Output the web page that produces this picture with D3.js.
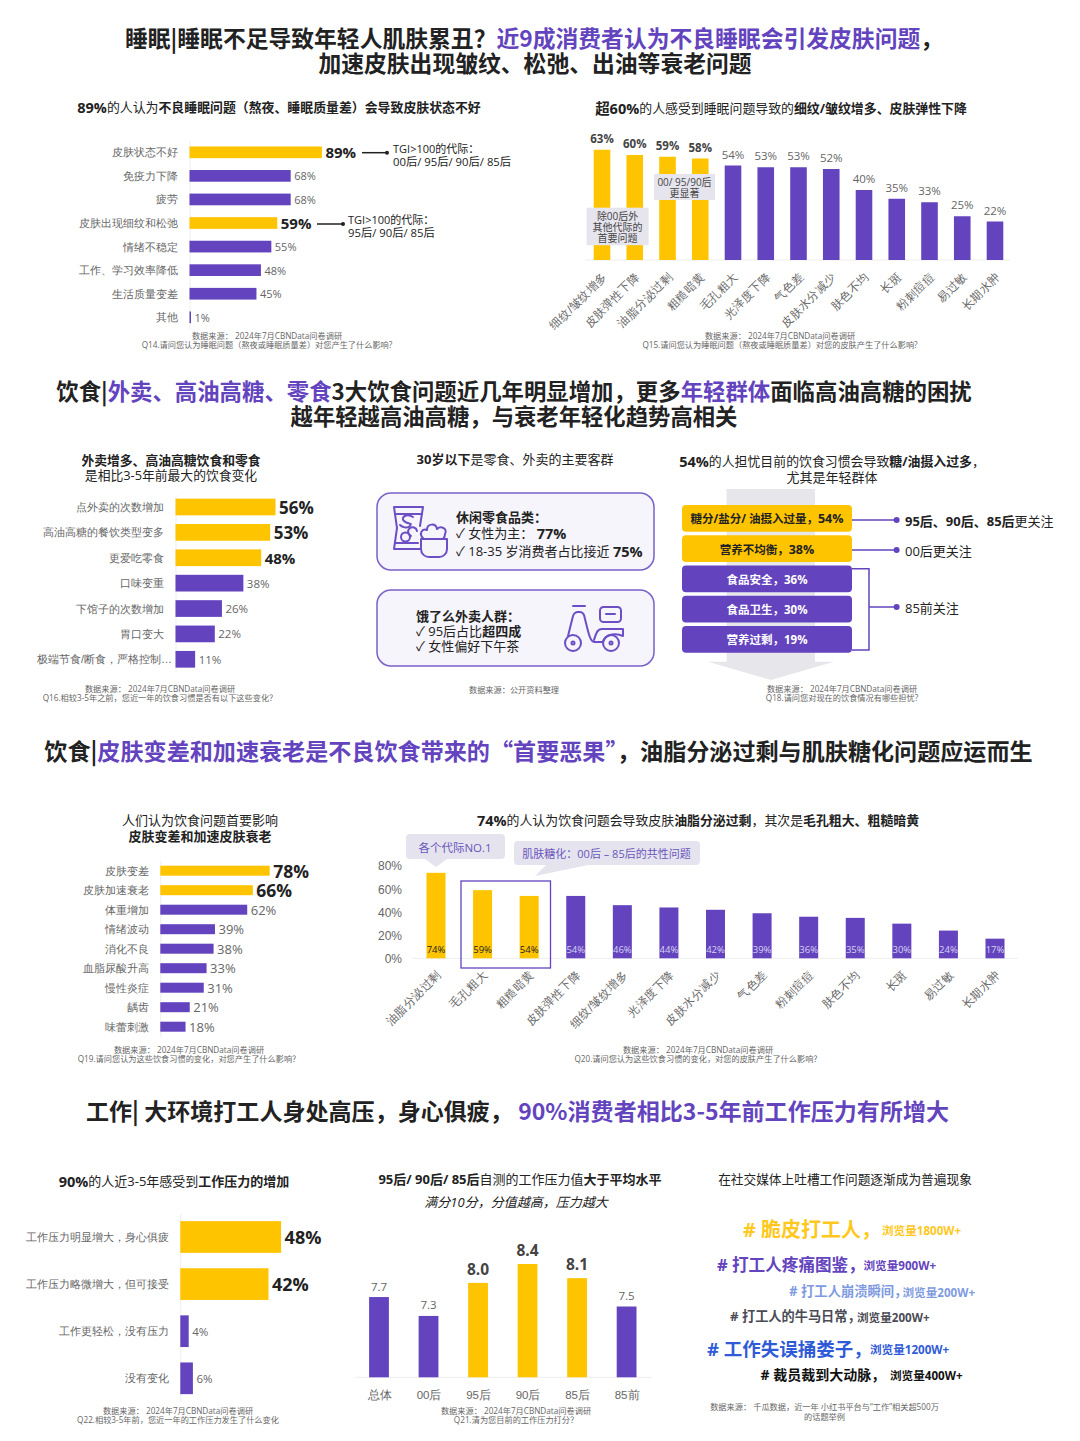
<!DOCTYPE html>
<html>
<head>
<meta charset="utf-8">
<script src="https://cdn.jsdelivr.net/npm/d3@7"></script>
<style>
  html, body { margin: 0; background: #fff; }
  svg { display: block; font-family: "Open Sans", "Noto Sans CJK SC", sans-serif; }
  text { dominant-baseline: central; }
</style>
</head>
<body>
<svg id="chart" width="1080" height="1441"></svg>
<script>
// sleep: skin state
const sleepCats = ['皮肤状态不好', '免疫力下降', '疲劳', '皮肤出现细纹和松弛', '情绪不稳定', '工作、学习效率降低', '生活质量变差', '其他'];
const sleepVals = [89, 68, 68, 59, 55, 48, 45, 1];
// sleep: skin problems
const wrinkleCats = ['细纹/皱纹增多', '皮肤弹性下降', '油脂分泌过剩', '粗糙暗黄', '毛孔粗大', '光泽度下降', '气色差', '皮肤水分减少', '肤色不均', '长斑', '粉刺痘痘', '易过敏', '长期水肿'];
const wrinkleVals = [63, 60, 59, 58, 54, 53, 53, 52, 40, 35, 33, 25, 22];
// diet changes
const dietCats = ['点外卖的次数增加', '高油高糖的餐饮类型变多', '更爱吃零食', '口味变重', '下馆子的次数增加', '胃口变大', '极端节食/断食，严格控制…'];
const dietVals = [56, 53, 48, 38, 26, 22, 11];
// diet worries
const worryCats = ['糖分/盐分/ 油摄入过量', '营养不均衡', '食品安全', '食品卫生', '营养过剩'];
const worryVals = [54, 38, 36, 30, 19];
// diet impact
const impactCats = ['皮肤变差', '皮肤加速衰老', '体重增加', '情绪波动', '消化不良', '血脂尿酸升高', '慢性炎症', '龋齿', '味蕾刺激'];
const impactVals = [78, 66, 62, 39, 38, 33, 31, 21, 18];
// diet skin problems
const oilCats = ['油脂分泌过剩', '毛孔粗大', '粗糙暗黄', '皮肤弹性下降', '细纹/皱纹增多', '光泽度下降', '皮肤水分减少', '气色差', '粉刺痘痘', '肤色不均', '长斑', '易过敏', '长期水肿'];
const oilVals = [74, 59, 54, 54, 46, 44, 42, 39, 36, 35, 30, 24, 17];
const oilTicks = [0, 20, 40, 60, 80];
// work pressure
const workCats = ['工作压力明显增大，身心俱疲', '工作压力略微增大，但可接受', '工作更轻松，没有压力', '没有变化'];
const workVals = [48, 42, 4, 6];
// pressure score
const scoreCats = ['总体', '00后', '95后', '90后', '85后', '85前'];
const scoreVals = [7.7, 7.3, 8.0, 8.4, 8.1, 7.5];
// social topics
const topics = ['# 脆皮打工人，', '# 打工人疼痛图鉴，', '# 打工人崩溃瞬间，', '# 打工人的牛马日常，', '# 工作失误捅娄子，', '# 裁员裁到大动脉，'];
const topicViews = ['1800W+', '900W+', '200W+', '200W+', '1200W+', '400W+'];

const YELLOW = '#FFC400', PURPLE = '#6344BE', DARK = '#222', GRAY = '#666', LIGHT = '#E5E4EE';
const svg = d3.select('#chart');

// segs: [text, bold, color, size]
function rich(x, y, segs, size, anchor) {
  const t = svg.append('text').attr('x', x).attr('y', y)
    .attr('text-anchor', anchor || 'middle').attr('font-size', size).attr('fill', DARK);
  segs.forEach(s => {
    t.append('tspan').text(s[0])
      .attr('font-weight', s[1] ? 700 : 400)
      .attr('fill', s[2] || null)
      .attr('font-size', s[3] || null);
  });
  return t;
}

// section headings are all CJK font so the | and the quotes stay tight
function heading(x, y, segs, size) {
  rich(x, y - 1, segs, size).attr('font-family', '"Noto Sans CJK SC"');
}

// several lines in one text element
function lines(x, y, list, gap, size, color) {
  const t = svg.append('text').attr('text-anchor', 'middle').attr('font-size', size).attr('fill', color);
  list.forEach((l, i) => {
    t.append('tspan').attr('x', x).attr('y', y + i * gap).text(l);
  });
}

function source(x, y, a, b) {
  lines(x, y, b ? [a, b] : [a], 9, 8.2, GRAY);
}

function hbar(o) {
  const step = (o.last - o.first) / (o.cats.length - 1);
  const y = d3.scaleBand().domain(o.cats).range([o.first - step / 2, o.last + step / 2]);
  const x = d3.scaleLinear().domain([0, 100]).range([o.x0, o.x0 + 100 * o.k]);
  const g = svg.append('g');

  const axis = g.append('g').attr('transform', `translate(${o.x0},0)`)
    .call(d3.axisLeft(y).tickSize(0).tickPadding(o.x0 - o.labelEnd));
  axis.select('.domain').attr('stroke', '#eee');
  axis.selectAll('text').attr('dy', 0).attr('fill', GRAY).attr('font-size', o.font)
    .attr('font-family', 'inherit')
    .attr('dx', d => d.endsWith('…') ? 8 : 0);

  g.selectAll('rect').data(o.vals).join('rect')
    .attr('x', o.x0)
    .attr('y', (d, i) => y(o.cats[i]) + y.bandwidth() / 2 - o.h / 2)
    .attr('width', d => x(d) - o.x0)
    .attr('height', o.h)
    .attr('fill', (d, i) => o.hi.includes(i) ? YELLOW : PURPLE);

  g.selectAll('.val').data(o.vals).join('text').attr('class', 'val')
    .attr('x', d => x(d) + 3.5)
    .attr('y', (d, i) => y(o.cats[i]) + y.bandwidth() / 2)
    .attr('font-size', (d, i) => o.size(i))
    .attr('font-weight', (d, i) => o.hi.includes(i) ? 700 : 400)
    .attr('fill', (d, i) => o.hi.includes(i) ? DARK : GRAY)
    .text(d => d + '%');
}

function pointer(x1, x2, y, color, r) {
  svg.append('line').attr('x1', x1).attr('x2', x2).attr('y1', y).attr('y2', y)
    .attr('stroke', color).attr('stroke-width', 1.5);
  svg.append('circle').attr('cx', x2).attr('cy', y).attr('r', r).attr('fill', color);
}

function tag(x, y, w, h, list, firstY) {
  svg.append('rect').attr('x', x).attr('y', y).attr('width', w).attr('height', h).attr('fill', '#E6E5EE');
  lines(x + w / 2, firstY, list, 11, 10, '#444');
}

// section titles
heading(534, 38, [['睡眠|睡眠不足导致年轻人肌肤累丑？', 1], ['近9成消费者认为不良睡眠会引发皮肤问题', 1, PURPLE], ['，', 1]], 22.8);
heading(535, 63, [['加速皮肤出现皱纹、松弛、出油等衰老问题', 1]], 22.8);
heading(514, 391, [['饮食|', 1], ['外卖、高油高糖、零食', 1, PURPLE], ['3大饮食问题近几年明显增加，更多', 1], ['年轻群体', 1, PURPLE], ['面临高油高糖的困扰', 1]], 22.4);
heading(514, 416, [['越年轻越高油高糖，与衰老年轻化趋势高相关', 1]], 22.35);
heading(538.5, 751, [['饮食|', 1], ['皮肤变差和加速衰老是不良饮食带来的“首要恶果”', 1, PURPLE], ['，油脂分泌过剩与肌肤糖化问题应运而生', 1]], 23.1);
heading(517.5, 1111, [['工作| 大环境打工人身处高压，身心俱疲，', 1], ['  90%消费者相比3-5年前工作压力有所增大', 1, PURPLE]], 23.05);

// --- sleep: skin state
rich(279, 107, [['89%', 1, null, 14.5], ['的人认为'], ['不良睡眠问题（熬夜、睡眠质量差）', 1], ['会导致皮肤状态不好', 1]], 12.9);
hbar({ cats: sleepCats, vals: sleepVals, hi: [0, 3], x0: 189.5, k: 1.488, first: 152.3, last: 317.3, h: 11.7, labelEnd: 178, font: 11,
  size: i => (i === 0 || i === 3) ? 15 : 11 });
pointer(362, 387, 152.7, DARK, 2);
rich(393, 148, [['TGI>100的代际：']], 11, 'start');
rich(393, 161, [['00后/ 95后/ 90后/ 85后']], 11.3, 'start');
pointer(317, 343, 224, DARK, 2);
rich(348, 219, [['TGI>100的代际：']], 11, 'start');
rich(348, 232, [['95后/ 90后/ 85后']], 11.3, 'start');
source(267, 335, '数据来源：  2024年7月CBNData问卷调研', 'Q14.请问您认为睡眠问题（熬夜或睡眠质量差）对您产生了什么影响?');

// vertical bars with rotated labels
function vbar(o) {
  const x = d3.scalePoint().domain(o.cats).range([o.first, o.last]);
  const y = d3.scaleLinear().domain(o.domain).range([o.base, o.base - (o.domain[1] - o.domain[0]) * o.k]);
  const g = svg.append('g');
  const axis = g.append('g').attr('transform', `translate(0,${o.base})`)
    .call(d3.axisBottom(x).tickSize(0));
  axis.select('.domain').attr('d', `M${o.axisFrom},0H${o.axisTo}`).attr('stroke', '#eee');
  axis.selectAll('text').attr('font-family', 'inherit').attr('fill', GRAY).attr('font-size', o.font);
  if (o.rotate) {
    axis.selectAll('text').attr('text-anchor', 'end').attr('dy', 0).attr('x', 0).attr('y', 0)
      .attr('transform', 'translate(2,14) rotate(-45)');
  } else {
    axis.selectAll('text').attr('dy', 0).attr('y', o.tickY);
  }
  g.selectAll('rect').data(o.vals).join('rect')
    .attr('x', (d, i) => x(o.cats[i]) - o.w / 2)
    .attr('y', d => y(d))
    .attr('width', o.w)
    .attr('height', d => o.base - y(d))
    .attr('fill', (d, i) => o.hi.includes(i) ? YELLOW : PURPLE);
  return { x, y, g };
}

// --- sleep: problems
rich(781, 108, [['超60%', 1, null, 14.5], ['的人感受到睡眠问题导致的'], ['细纹/皱纹增多、皮肤弹性下降', 1]], 12.9);
const wr = vbar({ cats: wrinkleCats, vals: wrinkleVals, hi: [0, 1, 2, 3], first: 602, last: 995, base: 260, k: 1.75, domain: [0, 100],
  w: 16.6, axisFrom: 585, axisTo: 1010, font: 11.6, rotate: true });
wr.g.selectAll('.val').data(wrinkleVals).join('text').attr('class', 'val')
  .attr('x', (d, i) => wr.x(wrinkleCats[i]))
  .attr('y', d => wr.y(d) - 11.5)
  .attr('text-anchor', 'middle')
  .attr('font-size', 11.5)
  .attr('font-weight', (d, i) => i < 4 ? 700 : 400)
  .attr('fill', (d, i) => i < 4 ? '#444' : GRAY)
  .text(d => d + '%');
tag(586.6, 207.7, 62, 37.5, ['除00后外', '其他代际的', '首要问题'], 216);
tag(654, 174, 61, 26, ['00/ 95/90后', '更显著'], 182);
source(780, 335, '数据来源：  2024年7月CBNData问卷调研', 'Q15.请问您认为睡眠问题（熬夜或睡眠质量差）对您的皮肤产生了什么影响?');

// --- diet changes
rich(171, 460, [['外卖增多、高油高糖饮食和零食', 1]], 12.8);
rich(171, 475, [['是相比3-5年前最大的饮食变化']], 12.8);
hbar({ cats: dietCats, vals: dietVals, hi: [0, 1, 2], x0: 175.5, k: 1.786, first: 507, last: 659.3, h: 16.7, labelEnd: 164, font: 11,
  size: i => i < 2 ? 17 : i === 2 ? 15 : 11.5 });
source(160, 688, '数据来源：  2024年7月CBNData问卷调研', 'Q16.相较3-5年之前，您近一年的饮食习惯是否有以下这些变化？');

// --- consumers boxes
rich(515, 459, [['30岁以下', 1], ['是零食、外卖的主要客群']], 13);
[[493, 77], [590, 76]].forEach(b => {
  svg.append('rect').attr('x', 377).attr('y', b[0]).attr('width', 277).attr('height', b[1]).attr('rx', 14)
    .attr('fill', '#F6F5FB').attr('stroke', '#7A60C9').attr('stroke-width', 1.5);
});
rich(456, 516.5, [['休闲零食品类：', 1]], 13, 'start');
rich(456, 533, [['✓ 女性为主： '], ['77%', 1, null, 14.5]], 13, 'start');
rich(456, 550.5, [['✓ 18-35 岁消费者占比接近 '], ['75%', 1, null, 14.5]], 13, 'start');
rich(416, 615.5, [['饿了么外卖人群：', 1]], 13, 'start');
rich(416, 630.5, [['✓ 95后占比'], ['超四成', 1]], 13, 'start');
rich(416, 646, [['✓ 女性偏好下午茶']], 13, 'start');

const icon = svg.append('g').attr('fill', 'none').attr('stroke', '#6C4FC4').attr('stroke-width', 2)
  .attr('stroke-linejoin', 'round').attr('stroke-linecap', 'round');
// snack bag and bowl
icon.append('path').attr('d', 'M420 526L423 507H394L397 528L394 549H420');
icon.append('path').attr('d', 'M395 514H422M395 543H418');
icon.append('path').attr('d', 'M413 517C407 513 400 517 404 521C408 525 413 522 410 526C407 529 402 527 400 525');
icon.append('circle').attr('cx', 405.5).attr('cy', 537).attr('r', 4.5);
icon.append('path').attr('d', 'M411 536A4.5 4.5 0 1 1 417 531');
icon.append('path').attr('d', 'M421 539H447V549C447 554 443 557 439 557H429C425 557 421 554 421 549Z');
icon.append('path').attr('d', 'M424 539C418 534 422 528 427 530C427 523 436 523 437 529C441 525 448 529 445 534C445 536 444 538 443 539');
// scooter
icon.append('circle').attr('cx', 573).attr('cy', 643).attr('r', 8);
icon.append('circle').attr('cx', 611).attr('cy', 643).attr('r', 8);
icon.append('circle').attr('cx', 573).attr('cy', 643).attr('r', 1.5);
icon.append('circle').attr('cx', 611).attr('cy', 643).attr('r', 1.5);
icon.append('path').attr('d', 'M573 606H585');
icon.append('path').attr('d', 'M568 636L573 616C574 613 576 612 578 612H580C582 612 583 613 584 615L588 631C589 635 591 642 594 642H603');
icon.append('path').attr('d', 'M594 640C596 634 597 629 602 629H623V636C617 633 606 633 603 642');
icon.append('rect').attr('x', 600).attr('y', 607).attr('width', 21).attr('height', 15).attr('rx', 3.5);
icon.append('path').attr('d', 'M606 614H615');
source(514, 689, '数据来源：公开资料整理');

// --- worries
rich(832, 461, [['54%', 1, null, 14.5], ['的人担忧目前的饮食习惯会导致'], ['糖/油摄入过多', 1], ['，']], 12.9);
rich(832, 477, [['尤其是年轻群体']], 13);
svg.append('path').attr('d', 'M726.6 489H815V661.7H834L771 680L708 661.7H726.6Z').attr('fill', '#E7E7EB');
const wy = d3.scaleBand().domain(worryCats).range([505, 652.7]).paddingInner(0.117).paddingOuter(0);
svg.append('g').selectAll('rect').data(worryVals).join('rect')
  .attr('x', 682).attr('width', 170)
  .attr('y', (d, i) => wy(worryCats[i]))
  .attr('height', wy.bandwidth()).attr('rx', 4)
  .attr('fill', (d, i) => i < 2 ? YELLOW : PURPLE);
worryVals.forEach((d, i) => {
  rich(767, wy(worryCats[i]) + wy.bandwidth() / 2, [[worryCats[i] + '，', 1, i < 2 ? DARK : '#fff'], [d + '%', 1, i < 2 ? DARK : '#fff', i < 2 ? 12.5 : null]], 11.5);
});
pointer(852, 896.6, 520, PURPLE, 3);
pointer(852, 896.6, 550, PURPLE, 3);
svg.append('path').attr('d', 'M852 568.7H869V650H852').attr('fill', 'none').attr('stroke', PURPLE).attr('stroke-width', 1.5);
pointer(869, 896.6, 607, PURPLE, 3);
rich(905, 520.5, [['95后、90后、85后', 1], ['更关注']], 13, 'start');
rich(905, 550.5, [['00后更关注']], 13, 'start');
rich(905, 607.5, [['85前关注']], 13, 'start');
source(842, 688, '数据来源：  2024年7月CBNData问卷调研', 'Q18.请问您对现在的饮食情况有哪些担忧?');

// --- diet impact
rich(200, 820, [['人们认为饮食问题首要影响']], 13);
rich(200, 836, [['皮肤变差和加速皮肤衰老', 1]], 13);
hbar({ cats: impactCats, vals: impactVals, hi: [0, 1], x0: 160.3, k: 1.402, first: 870.7, last: 1026.7, h: 10, labelEnd: 149, font: 11,
  size: i => i < 2 ? 17.5 : 13 });
source(189, 1049, '数据来源：  2024年7月CBNData问卷调研', 'Q19.请问您认为这些饮食习惯的变化，对您产生了什么影响？');

// --- diet skin problems
rich(698, 819.5, [['74%', 1, null, 14.5], ['的人认为饮食问题会导致皮肤'], ['油脂分泌过剩', 1], ['，其次是'], ['毛孔粗大、粗糙暗黄', 1]], 12.9);
const oil = vbar({ cats: oilCats, vals: oilVals, hi: [0, 1, 2], first: 436, last: 995, base: 958.3, k: 1.155, domain: [0, 100],
  w: 19, axisFrom: 412, axisTo: 1018, font: 11.6, rotate: true });
const oilAxis = d3.axisLeft(oil.y).tickValues(oilTicks).tickSize(0).tickFormat(d => d + '%');
const oilLeft = oil.g.append('g').attr('transform', 'translate(402,0)').call(oilAxis);
oilLeft.select('.domain').remove();
oilLeft.selectAll('text').attr('dy', 0).attr('x', 0).attr('font-family', 'inherit').attr('font-size', 12).attr('fill', GRAY);
oil.g.selectAll('.val').data(oilVals).join('text').attr('class', 'val')
  .attr('x', (d, i) => oil.x(oilCats[i]))
  .attr('y', 949)
  .attr('text-anchor', 'middle')
  .attr('font-size', 9.5)
  .attr('fill', (d, i) => i < 3 ? DARK : '#D9D2F2')
  .text(d => d + '%');
svg.append('rect').attr('x', 461).attr('y', 881).attr('width', 89.5).attr('height', 87)
  .attr('fill', 'none').attr('stroke', PURPLE).attr('stroke-width', 1.3);
svg.append('path').attr('d', 'M410 834H501Q505 834 505 838V855Q505 859 501 859H447L436 867L425 859H410Q406 859 406 855V838Q406 834 410 834Z').attr('fill', LIGHT);
rich(455, 846.5, [['各个代际NO.1', 0, '#6A55BD']], 11.5);
svg.append('path').attr('d', 'M518 841H696Q700 841 700 845V861Q700 865 696 865H588L535 876L546 865H518Q514 865 514 861V845Q514 841 518 841Z').attr('fill', LIGHT);
rich(606.5, 853.3, [['肌肤糖化：00后 – 85后的共性问题', 0, '#6A55BD']], 11);
source(698, 1049, '数据来源：  2024年7月CBNData问卷调研', 'Q20.请问您认为这些饮食习惯的变化，对您的皮肤产生了什么影响？');

// --- work pressure
rich(174, 1180.5, [['90%', 1, null, 14.5], ['的人近3-5年感受到'], ['工作压力的增加', 1]], 13);
hbar({ cats: workCats, vals: workVals, hi: [0, 1], x0: 180.3, k: 2.1, first: 1237, last: 1378.3, h: 31.7, labelEnd: 169, font: 11,
  size: i => i < 2 ? 18 : 11.5 });
source(178, 1410, '数据来源：  2024年7月CBNData问卷调研', 'Q22.相较3-5年前，您近一年的工作压力发生了什么变化');

// --- pressure score
rich(520, 1179, [['95后/ 90后/ 85后', 1], ['自测的工作压力值'], ['大于平均水平', 1]], 13);
rich(516, 1201.5, [['满分10分，分值越高，压力越大']], 13).attr('font-style', 'italic');
const sc = vbar({ cats: scoreCats, vals: scoreVals, hi: [2, 3, 4], first: 379, last: 626.6, base: 1377.3, k: 47.2, domain: [6, 10],
  w: 19.8, axisFrom: 355, axisTo: 652, font: 11.5, tickY: 17.5 });
sc.g.selectAll('.val').data(scoreVals).join('text').attr('class', 'val')
  .attr('x', (d, i) => sc.x(scoreCats[i]))
  .attr('y', (d, i) => sc.y(d) - ([2, 3, 4].includes(i) ? 14 : 11))
  .attr('text-anchor', 'middle')
  .attr('font-size', (d, i) => [2, 3, 4].includes(i) ? 15.5 : 11.5)
  .attr('font-weight', (d, i) => [2, 3, 4].includes(i) ? 700 : 400)
  .attr('fill', (d, i) => [2, 3, 4].includes(i) ? '#444' : GRAY)
  .text(d => d.toFixed(1));
source(516, 1410, '数据来源：  2024年7月CBNData问卷调研', 'Q21.清为您目前的工作压力打分？');

// --- social topics
rich(845, 1179, [['在社交媒体上吐槽工作问题逐渐成为普遍现象']], 12.7);
const topicStyle = [
  { x: 743, sx: 882, y: 1229, size: 20, color: '#FFC81E' },
  { x: 717, sx: 863.5, y: 1263.5, size: 16.6, color: '#6344BE' },
  { x: 789, sx: 902.5, y: 1291, size: 13.3, color: '#7F9BE0' },
  { x: 730, sx: 857, y: 1316, size: 13.2, color: '#4B4B55' },
  { x: 707, sx: 870, y: 1347.5, size: 18.5, color: '#2F5BD8' },
  { x: 760.5, sx: 890, y: 1373.5, size: 14, color: '#111' }
];
topics.forEach((t, i) => {
  const s = topicStyle[i];
  rich(s.x, s.y, [[t, 1, s.color]], s.size, 'start');
  rich(s.sx, s.y + 1, [['浏览量' + topicViews[i], 1, s.color]], 11.6, 'start');
});
lines(824.5, 1406, ['数据来源：  千瓜数据，近一年 小红书平台与“工作”相关超500万', '的话题举例'], 9.5, 8.2, GRAY);
</script>
</body>
</html>
